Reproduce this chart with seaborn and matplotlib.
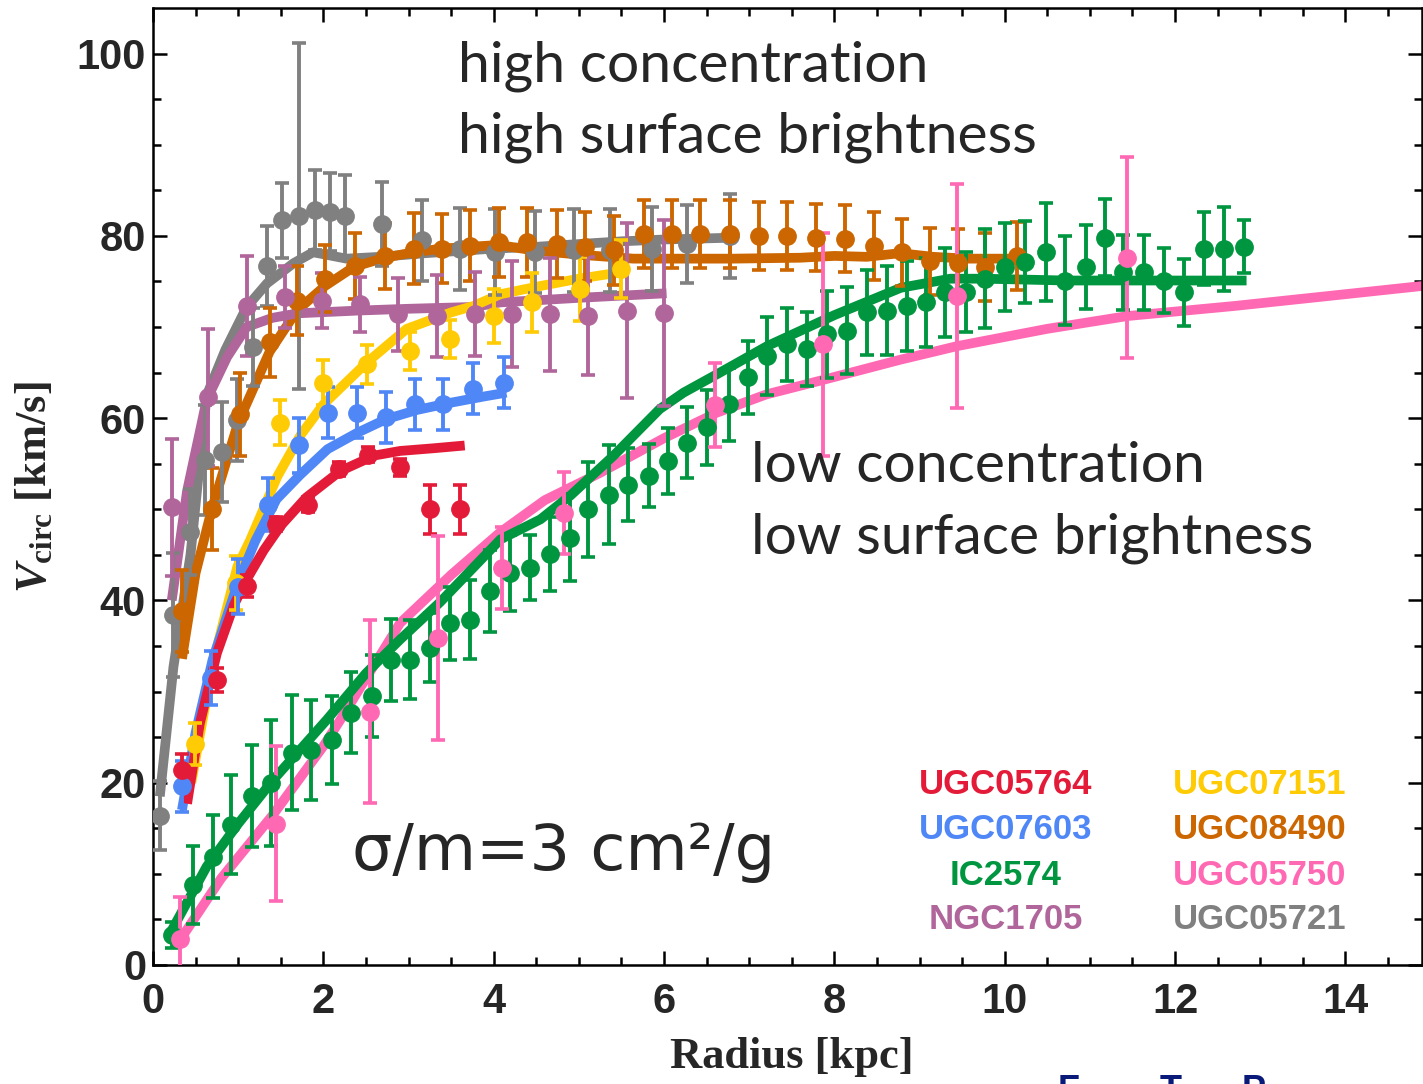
import numpy as np
import pandas as pd
import matplotlib
matplotlib.use('Agg')
import matplotlib.pyplot as plt
import seaborn as sns

sns.set_theme(style='ticks')
plt.rcParams['font.family'] = ['Liberation Sans', 'DejaVu Sans']
plt.rcParams['mathtext.fontset'] = 'custom'
plt.rcParams['mathtext.rm'] = 'Liberation Serif:bold'
plt.rcParams['mathtext.bf'] = 'Liberation Serif:bold'
plt.rcParams['mathtext.it'] = 'Liberation Serif:bold:italic'

# ------------------------------------------------------------
# Data (radius in kpc, V in km/s)
# ------------------------------------------------------------
names = ['UGC05764', 'UGC07603', 'IC2574', 'NGC1705',
         'UGC07151', 'UGC08490', 'UGC05750', 'UGC05721']
colors = {'UGC05764': '#e41b38', 'UGC07603': '#5087f7', 'IC2574': '#009640',
          'NGC1705': '#b0669b', 'UGC07151': '#ffcb05', 'UGC08490': '#cc6600',
          'UGC05750': '#ff69b4', 'UGC05721': '#808080'}

# UGC05764 (red)
r_red = [0.34, 0.75, 1.10, 1.45, 1.82, 2.18, 2.53, 2.90, 3.25, 3.61]
v_red = [21.4, 31.3, 41.6, 48.4, 50.5, 54.4, 56.0, 54.6, 50.0, 50.0]
e_red = [1.8, 1.3, 1.2, 0.8, 0.8, 0.8, 0.8, 0.9, 2.7, 2.7]
rm_red = [0.40, 0.55, 0.75, 0.95, 1.10, 1.30, 1.50, 1.80, 2.20, 2.60, 2.90, 3.30, 3.66]
vm_red = [17.7, 26.5, 34.2, 39.5, 42.3, 45.5, 48.2, 51.3, 54.2, 55.9, 56.4, 56.7, 57.0]

# UGC07603 (blue)
r_blu = [0.34, 0.68, 1.00, 1.35, 1.71, 2.06, 2.39, 2.74, 3.08, 3.41, 3.76, 4.12]
v_blu = [19.6, 31.5, 41.5, 50.5, 57.0, 60.6, 60.6, 60.1, 61.5, 61.5, 63.2, 63.9]
e_blu = [2.8, 3.0, 3.0, 2.9, 3.0, 2.8, 2.8, 2.8, 2.8, 2.8, 2.8, 2.8]
rm_blu = [0.34, 0.50, 0.70, 1.00, 1.20, 1.45, 1.73, 2.05, 2.40, 2.74, 3.10, 3.50, 3.90, 4.15]
vm_blu = [17.0, 25.5, 33.5, 42.0, 46.5, 51.1, 53.8, 56.6, 58.4, 59.9, 60.9, 61.7, 62.4, 62.8]

# IC2574 (green)
r_grn = [0.22, 0.47, 0.71, 0.92, 1.16, 1.39, 1.63, 1.86, 2.10, 2.33, 2.57, 2.80,
         3.02, 3.25, 3.49, 3.72, 3.96, 4.19, 4.43, 4.66, 4.90, 5.11, 5.35, 5.58,
         5.82, 6.05, 6.27, 6.50, 6.76, 6.99, 7.21, 7.44, 7.68, 7.91, 8.15, 8.38,
         8.62, 8.85, 9.08, 9.30, 9.54, 9.77, 10.00, 10.24, 10.48, 10.71, 10.95,
         11.18, 11.39, 11.63, 11.87, 12.10, 12.34, 12.57, 12.81]
v_grn = [3.3, 8.8, 11.9, 15.4, 18.5, 20.0, 23.3, 23.6, 24.7, 27.7, 29.5, 33.5,
         33.5, 34.8, 37.5, 37.9, 41.0, 43.0, 43.6, 45.1, 46.9, 50.0, 51.6, 52.7,
         53.7, 55.3, 57.3, 59.0, 61.5, 64.5, 66.8, 68.1, 67.6, 69.2, 69.6, 71.6,
         71.8, 72.3, 72.7, 73.8, 73.8, 75.3, 76.6, 77.1, 78.2, 75.1, 76.6,
         79.8, 76.0, 76.0, 75.1, 73.8, 78.6, 78.6, 78.8]
e_grn = [1.4, 4.3, 4.6, 5.4, 5.6, 6.9, 6.3, 5.5, 4.8, 4.4, 4.5, 4.5,
         4.3, 3.8, 4.0, 4.3, 4.5, 4.2, 3.6, 4.1, 4.8, 5.2, 5.4, 4.0,
         3.5, 3.6, 3.9, 4.1, 4.0, 4.0, 4.3, 4.0, 4.1, 4.8, 4.8, 4.7,
         4.9, 4.9, 4.9, 4.9, 4.4, 5.4, 4.8, 4.5, 5.4, 4.9, 4.6,
         4.2, 4.1, 4.1, 3.6, 3.7, 4.0, 4.6, 2.9]
rm_grn = [0.22, 0.63, 1.00, 1.41, 2.04, 2.50, 2.90, 3.37, 4.08, 4.55, 4.90, 5.41,
          5.95, 6.23, 6.58, 6.81, 7.21, 8.00, 8.78, 9.36, 9.75, 10.73, 12.84]
vm_grn = [3.8, 10.8, 15.5, 20.3, 26.9, 32.0, 35.7, 39.8, 46.7, 48.9, 51.5, 55.9,
          61.0, 62.8, 64.6, 65.8, 67.9, 71.3, 74.3, 75.3, 75.3, 75.1, 75.1]

# NGC1705 (purple)
r_pur = [0.22, 0.65, 1.10, 1.55, 1.99, 2.43, 2.88, 3.33, 3.78, 4.21, 4.66, 5.11, 5.56, 6.00]
v_pur = [50.2, 62.3, 72.3, 73.3, 72.9, 72.5, 71.4, 71.2, 71.4, 71.4, 71.4, 71.2, 71.8, 71.5]
e_pur = [7.5, 7.5, 5.5, 3.4, 3.0, 3.0, 4.0, 4.5, 4.6, 5.8, 6.2, 6.5, 9.6, 10.2]
rm_pur = [0.22, 0.40, 0.63, 0.87, 1.10, 1.40, 1.70, 2.40, 3.00, 3.76, 4.08, 5.00, 6.03]
vm_pur = [40.0, 52.0, 62.0, 66.7, 70.0, 71.0, 71.5, 71.8, 72.0, 72.2, 72.7, 73.2, 73.7]

# UGC07151 (yellow)
r_yel = [0.49, 0.98, 1.49, 2.00, 2.51, 3.02, 3.49, 4.00, 4.45, 5.01, 5.49]
v_yel = [24.2, 41.9, 59.5, 63.9, 65.9, 67.4, 68.7, 71.2, 72.7, 74.2, 76.4]
e_yel = [2.3, 3.0, 2.5, 2.5, 2.1, 2.1, 2.1, 3.0, 3.2, 3.5, 3.2]
rm_yel = [0.45, 0.70, 0.99, 1.14, 1.46, 1.73, 2.00, 2.51, 2.98, 3.50, 3.76, 4.08, 4.55, 5.00, 5.49]
vm_yel = [20.0, 33.0, 43.7, 46.6, 53.6, 58.1, 61.5, 66.1, 69.8, 71.6, 72.3, 73.6, 74.5, 75.3, 76.0]

# UGC08490 (orange)
r_ora = [0.34, 0.69, 1.02, 1.37, 1.69, 2.02, 2.37, 2.72, 3.06, 3.39, 3.72, 4.06,
         4.39, 4.74, 5.07, 5.41, 5.76, 6.09, 6.42, 6.78, 7.11, 7.44, 7.78, 8.13,
         8.46, 8.79, 9.12, 9.45, 9.77, 10.14]
v_ora = [38.8, 50.0, 60.4, 68.3, 72.9, 75.3, 76.7, 77.8, 78.6, 78.6, 78.9, 79.3,
         79.3, 79.1, 78.8, 78.4, 80.2, 80.2, 80.2, 80.2, 80.0, 80.0, 79.8, 79.7,
         78.9, 78.2, 77.2, 77.0, 76.6, 77.8]
e_ora = [4.5, 4.5, 4.5, 3.8, 3.8, 3.7, 3.6, 3.6, 3.9, 3.8, 3.9, 3.8,
         3.8, 3.7, 3.8, 3.8, 3.7, 3.7, 3.7, 3.7, 3.7, 3.7, 3.7, 3.7,
         3.7, 3.7, 3.7, 3.7, 3.7, 3.7]
rm_ora = [0.34, 0.50, 0.69, 1.00, 1.37, 1.69, 2.02, 2.36, 2.72, 3.06, 3.39, 4.06,
          4.47, 5.05, 5.64, 6.81, 7.60, 8.00, 8.38, 8.77, 9.16, 9.56, 10.18]
vm_ora = [33.6, 43.0, 50.0, 59.5, 67.3, 71.8, 74.5, 76.6, 77.6, 78.2, 78.6, 79.0,
          78.4, 77.9, 77.5, 77.5, 77.6, 77.8, 77.7, 78.1, 77.7, 77.5, 77.5]

# UGC05750 (pink)
r_pnk = [0.32, 1.45, 2.55, 3.35, 4.10, 4.82, 6.60, 7.87, 9.44, 11.44]
v_pnk = [2.9, 15.5, 27.8, 35.9, 43.6, 49.6, 61.4, 68.1, 73.4, 77.6]
e_pnk = [4.6, 8.5, 10.0, 11.2, 4.5, 4.5, 4.6, 12.2, 12.3, 11.0]
rm_pnk = [0.30, 0.80, 1.41, 2.00, 2.20, 2.90, 3.50, 4.08, 4.60, 5.25, 6.00, 6.62,
          7.20, 7.87, 8.77, 9.44, 10.50, 11.44, 12.69, 13.80, 15.00]
vm_pnk = [2.5, 9.5, 16.5, 24.0, 26.9, 37.5, 42.8, 47.5, 51.0, 54.0, 57.8, 60.6,
          62.6, 64.2, 66.4, 67.9, 69.8, 71.2, 72.3, 73.4, 74.6]

# UGC05721 (gray)
r_gra = [0.08, 0.24, 0.44, 0.61, 0.81, 0.99, 1.18, 1.34, 1.51, 1.71, 1.90, 2.08,
         2.26, 2.69, 3.16, 3.61, 4.02, 4.49, 4.94, 5.37, 5.86, 6.27, 6.78]
v_gra = [16.4, 38.4, 47.5, 55.4, 56.3, 59.8, 67.8, 76.7, 81.7, 82.2, 82.8, 82.6,
         82.2, 81.3, 79.5, 78.6, 78.2, 78.2, 78.4, 78.4, 78.6, 79.1, 80.0]
e_gra = [3.8, 6.8, 4.7, 6.0, 5.5, 4.5, 4.3, 4.4, 4.1, 19.0, 4.4, 4.3,
         4.5, 4.6, 4.4, 4.5, 4.7, 4.5, 4.6, 4.6, 4.6, 4.3, 4.6]
rm_gra = [0.08, 0.24, 0.44, 0.63, 0.85, 1.10, 1.34, 1.65, 1.88, 2.05, 2.27, 2.67,
          3.20, 4.00, 4.50, 5.00, 5.50, 6.00, 6.80]
vm_gra = [18.5, 32.7, 45.0, 62.5, 67.5, 72.2, 74.8, 77.0, 78.2, 77.9, 77.5, 77.7,
          78.1, 78.6, 78.8, 79.1, 79.4, 79.6, 79.8]

points = {'UGC05764': (r_red, v_red, e_red), 'UGC07603': (r_blu, v_blu, e_blu),
          'IC2574': (r_grn, v_grn, e_grn), 'NGC1705': (r_pur, v_pur, e_pur),
          'UGC07151': (r_yel, v_yel, e_yel), 'UGC08490': (r_ora, v_ora, e_ora),
          'UGC05750': (r_pnk, v_pnk, e_pnk), 'UGC05721': (r_gra, v_gra, e_gra)}
models = {'UGC05764': (rm_red, vm_red), 'UGC07603': (rm_blu, vm_blu),
          'IC2574': (rm_grn, vm_grn), 'NGC1705': (rm_pur, vm_pur),
          'UGC07151': (rm_yel, vm_yel), 'UGC08490': (rm_ora, vm_ora),
          'UGC05750': (rm_pnk, vm_pnk), 'UGC05721': (rm_gra, vm_gra)}

# ------------------------------------------------------------
# Figure
# ------------------------------------------------------------
fig = plt.figure(figsize=(14.23, 10.84), dpi=100)
ax = fig.add_axes([153 / 1423, 1 - 965 / 1084, 1269 / 1423, 957 / 1084])

line_order = ['UGC05750', 'UGC05721', 'UGC08490', 'NGC1705',
              'UGC07151', 'UGC07603', 'UGC05764', 'IC2574']
for name in line_order:
    rm, vm = models[name]
    df = pd.DataFrame({'r': rm, 'v': vm})
    sns.lineplot(data=df, x='r', y='v', ax=ax, color=colors[name], lw=7,
                 estimator=None, sort=False, legend=False, zorder=2,
                 solid_capstyle='butt')

point_order = ['UGC05721', 'UGC08490', 'NGC1705', 'UGC07151',
               'UGC07603', 'UGC05764', 'IC2574', 'UGC05750']
for name in point_order:
    r, v, e = points[name]
    ax.errorbar(r, v, yerr=e, fmt='o', color=colors[name], ms=12.5,
                elinewidth=2.8, capsize=5, capthick=2.6, zorder=3)

ax.set_xlim(0, 14.9)
ax.set_ylim(0, 105)
ax.set_xticks(np.arange(0, 15, 2))
ax.set_yticks(np.arange(0, 101, 20))
ax.set_xticks(np.arange(0, 15, 0.5), minor=True)
ax.set_yticks(np.arange(0, 105, 5), minor=True)
ax.tick_params(which='both', direction='in', top=True, right=True,
               color='black', width=1.8)
ax.tick_params(which='major', length=10)
ax.tick_params(which='minor', length=6)
ax.tick_params(axis='x', which='major', pad=12)
ax.tick_params(axis='y', which='major', pad=5)
for lab in ax.get_xticklabels() + ax.get_yticklabels():
    lab.set_fontsize(30)
    lab.set_fontweight('bold')
for s in ax.spines.values():
    s.set_linewidth(1.8)
    s.set_color('black')
ax.set_xlabel('')
ax.set_ylabel('')

fig.text(792 / 1423, 1 - 1057 / 1084, 'Radius [kpc]', ha='center', va='center',
         fontsize=32, fontweight='bold', family='Liberation Serif')
fig.text(35 / 1423, 1 - 487 / 1084, r'$\mathit{V}_{\mathbf{circ}}$ [km/s]',
         ha='center', va='center', rotation=90,
         fontsize=32, fontweight='bold', family='Liberation Serif')

# annotations
ax.text(3.58, 96.9, 'high concentration', fontsize=41, family='Lato',
        ha='left', va='baseline')
ax.text(3.58, 89.1, 'high surface brightness', fontsize=41, family='Lato',
        ha='left', va='baseline')
ax.text(7.02, 53.0, 'low concentration', fontsize=41, family='Lato',
        ha='left', va='baseline')
ax.text(7.02, 45.2, 'low surface brightness', fontsize=41, family='Lato',
        ha='left', va='baseline')
ax.text(2.34, 10.4, 'σ/m=3 cm²/g', fontsize=46, family='DejaVu Sans',
        ha='left', va='baseline')

# colored legend labels
legend_x = [10.01, 10.01, 10.01, 10.01, 12.99, 12.99, 12.99, 12.99]
legend_y = [19.85, 14.9, 9.87, 4.94, 19.85, 14.9, 9.87, 4.94]
for name, lx, ly in zip(names, legend_x, legend_y):
    ax.text(lx, ly, name, color=colors[name], fontsize=25, fontweight='bold',
            ha='center', va='center')

# footer text, cut off by the lower edge of the picture
fig.text(1058 / 1423, 1 - 1074 / 1084, 'F        T      P', color='#0a1a78',
         fontsize=26, fontweight='bold', ha='left', va='top')

fig.savefig('out.png', dpi=100)
